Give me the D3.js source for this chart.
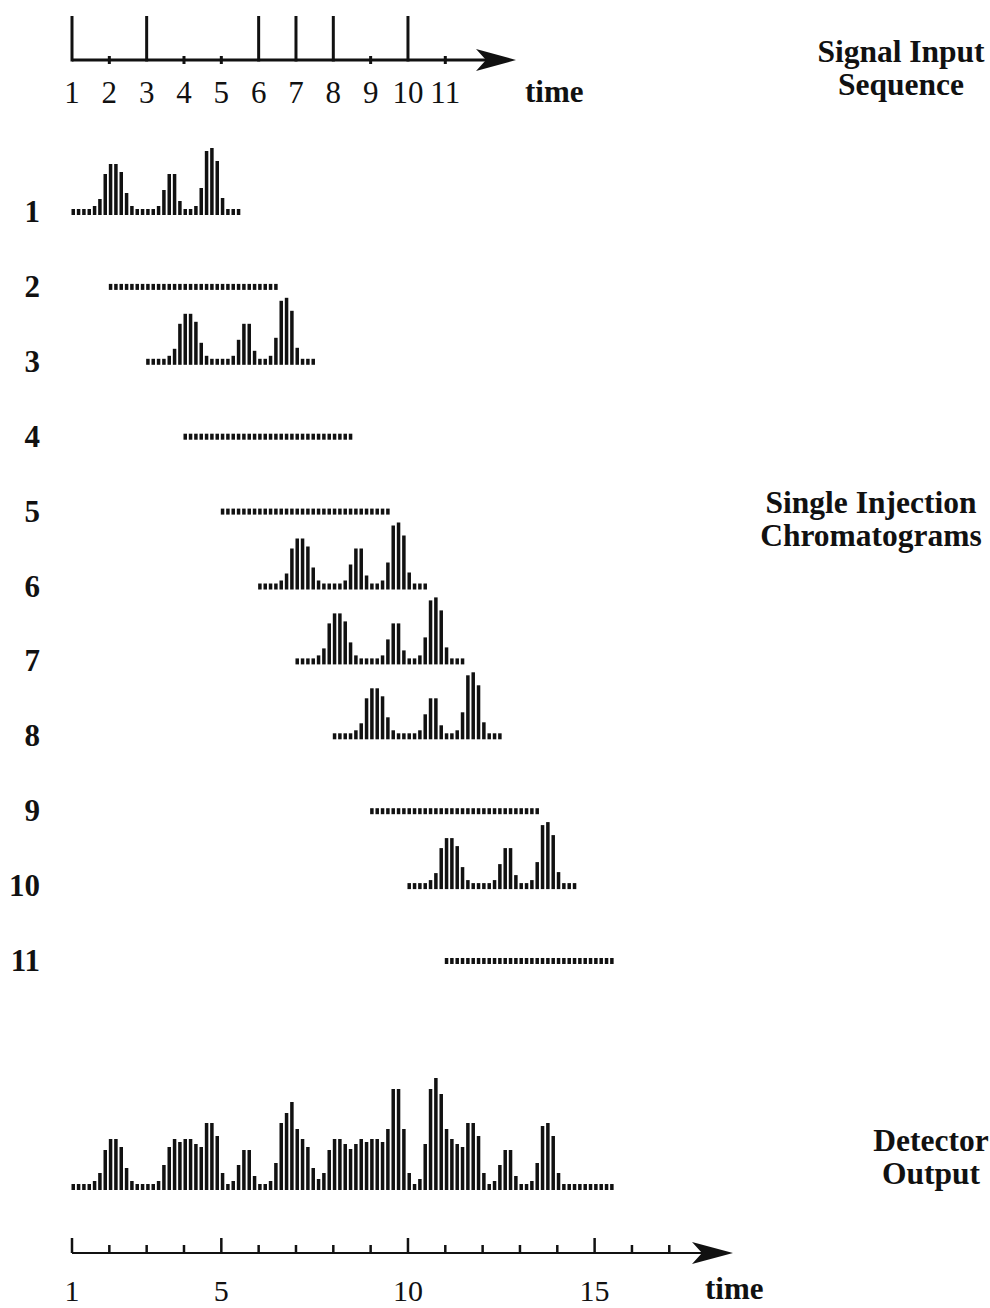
<!DOCTYPE html>
<html>
<head>
<meta charset="utf-8">
<script src="https://cdn.jsdelivr.net/npm/d3@7"></script>
<style>
  body { margin: 0; background: #fff; }
  text { font-family: "Liberation Serif", "Times New Roman", serif; fill: #111; }
</style>
</head>
<body>
<div id="chart"></div>
<script>
// time points of the input sequence (top axis)
const inputTimes = [1, 2, 3, 4, 5, 6, 7, 8, 9, 10, 11];
// injections happen at these times (tall ticks)
const injectionTimes = [1, 3, 6, 7, 8, 10];
const rows = [1, 2, 3, 4, 5, 6, 7, 8, 9, 10, 11];
const samplesPerUnit = 7;

// single injection chromatogram (32 samples)
const peakProfile = [6, 6, 6, 6, 9, 16, 41, 51, 51, 43, 22, 9, 6, 6, 6, 6,
  9, 25, 41, 41, 14, 6, 6, 9, 27, 64, 67, 54, 17, 6, 6, 6];
// no injection: baseline only
const flatProfile = [6, 6, 6, 6, 6, 6, 6, 6, 6, 6, 6, 6, 6, 6, 6, 6,
  6, 6, 6, 6, 6, 6, 6, 6, 6, 6, 6, 6, 6, 6, 6, 6];

// detector output (102 samples, from t = 1)
const detectorOutput = [
  6, 6, 6, 6, 9, 17, 40, 51, 51, 43,
  22, 9, 6, 6, 6, 6, 9, 25, 43, 51,
  48, 51, 51, 46, 43, 67, 67, 54, 17, 6,
  9, 25, 40, 40, 14, 6, 6, 9, 27, 67,
  77, 88, 61, 51, 43, 22, 11, 17, 40, 51,
  51, 46, 41, 46, 51, 48, 51, 51, 48, 61,
  101, 101, 61, 17, 6, 11, 46, 101, 112, 96,
  61, 51, 46, 43, 67, 67, 54, 17, 6, 9,
  25, 40, 40, 14, 6, 6, 9, 27, 64, 67,
  54, 17, 6, 6, 6, 6, 6, 6, 6, 6,
  6, 6];

const bottomTicks = [1, 2, 3, 4, 5, 6, 7, 8, 9, 10, 11, 12, 13, 14, 15, 16, 17];
const bottomLabels = [1, 5, 10, 15];

const width = 990, height = 1308;

const svg = d3.select("#chart")
  .append("svg")
    .attr("width", width)
    .attr("height", height);

const x = d3.scaleLinear().domain([1, 11]).range([72, 445.3]);
const h = d3.scaleLinear().domain([0, 100]).range([0, 100]);
const rowY = d3.scaleLinear().domain([1, 11]).range([215, 964]);

const barW = 3.5;

// ---- top axis: signal input sequence
const topY = 60;
const inputAxis = svg.append("g").attr("class", "input-axis");

inputAxis.append("line")
  .attr("x1", x(1)).attr("x2", 490)
  .attr("y1", topY).attr("y2", topY)
  .attr("stroke", "#111").attr("stroke-width", 3);

inputAxis.append("path")
  .attr("d", `M516,${topY} L476,${topY - 11} L486,${topY} L476,${topY + 11} Z`)
  .attr("fill", "#111");

inputAxis.selectAll("line.tick")
  .data(inputTimes)
  .join("line")
    .attr("class", "tick")
    .attr("x1", d => x(d)).attr("x2", d => x(d))
    .attr("y1", d => injectionTimes.includes(d) ? 16 : topY - 4)
    .attr("y2", d => injectionTimes.includes(d) ? topY + 1.5 : topY + 4)
    .attr("stroke", "#111")
    .attr("stroke-width", 3);

inputAxis.selectAll("text.tick-label")
  .data(inputTimes)
  .join("text")
    .attr("class", "tick-label")
    .attr("x", d => x(d))
    .attr("y", 103)
    .attr("text-anchor", "middle")
    .style("font-size", "31px")
    .text(d => d);

svg.append("text")
  .attr("x", 525).attr("y", 102)
  .style("font-size", "31px").style("font-weight", "bold")
  .text("time");

// ---- single injection chromatograms
const rowG = svg.append("g").attr("class", "rows")
  .selectAll("g.row")
  .data(rows)
  .join("g")
    .attr("class", "row");

rowG.append("text")
  .attr("x", 40)
  .attr("y", d => rowY(d) + 7)
  .attr("text-anchor", "end")
  .style("font-size", "31px").style("font-weight", "bold")
  .text(d => d);

rowG.selectAll("rect")
  .data(d => {
    const profile = injectionTimes.includes(d) ? peakProfile : flatProfile;
    return profile.map((v, i) => ({row: d, t: d + i / samplesPerUnit, v}));
  })
  .join("rect")
    .attr("x", d => x(d.t) - 0.5)
    .attr("y", d => rowY(d.row) - h(d.v))
    .attr("width", barW)
    .attr("height", d => h(d.v))
    .attr("fill", "#111");

// ---- detector output
const detY = 1190;
svg.append("g").attr("class", "detector")
  .selectAll("rect")
  .data(detectorOutput)
  .join("rect")
    .attr("x", (d, i) => x(1 + i / samplesPerUnit) - 0.5)
    .attr("y", d => detY - h(d))
    .attr("width", barW)
    .attr("height", d => h(d))
    .attr("fill", "#111");

// ---- bottom axis
const botY = 1253;
const timeAxis = svg.append("g").attr("class", "time-axis");

timeAxis.append("line")
  .attr("x1", x(1)).attr("x2", 705)
  .attr("y1", botY).attr("y2", botY)
  .attr("stroke", "#111").attr("stroke-width", 2.2);

timeAxis.append("path")
  .attr("d", `M733,${botY} L692,${botY - 11} L702,${botY} L692,${botY + 11} Z`)
  .attr("fill", "#111");

timeAxis.selectAll("line.tick")
  .data(bottomTicks)
  .join("line")
    .attr("class", "tick")
    .attr("x1", d => x(d)).attr("x2", d => x(d))
    .attr("y1", d => bottomLabels.includes(d) ? 1238 : 1245)
    .attr("y2", botY)
    .attr("stroke", "#111")
    .attr("stroke-width", 2.5);

timeAxis.selectAll("text.tick-label")
  .data(bottomLabels)
  .join("text")
    .attr("class", "tick-label")
    .attr("x", d => x(d))
    .attr("y", 1301)
    .attr("text-anchor", "middle")
    .style("font-size", "30px")
    .text(d => d);

svg.append("text")
  .attr("x", 705).attr("y", 1299)
  .style("font-size", "31px").style("font-weight", "bold")
  .text("time");

// ---- side labels
const sideLabels = [
  {lines: ["Signal Input", "Sequence"], cx: 901, y: 62},
  {lines: ["Single Injection", "Chromatograms"], cx: 871, y: 513},
  {lines: ["Detector", "Output"], cx: 931, y: 1151}
];

sideLabels.forEach(l => {
  svg.append("text")
    .attr("text-anchor", "middle")
    .style("font-size", "31.5px").style("font-weight", "bold")
    .selectAll("tspan")
    .data(l.lines)
    .join("tspan")
      .attr("x", l.cx)
      .attr("y", (d, i) => l.y + i * 33)
      .text(d => d);
});
</script>
</body>
</html>
